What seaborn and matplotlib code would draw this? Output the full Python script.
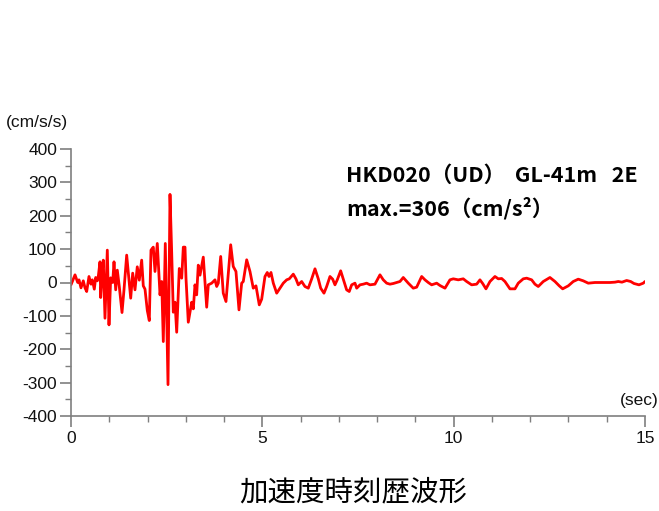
import matplotlib
matplotlib.use("Agg")
import matplotlib.pyplot as plt
import pandas as pd
import seaborn as sns
from matplotlib.ticker import MultipleLocator

# ---- data ----
time_s = [0.000, 0.105, 0.175, 0.209, 0.261, 0.321, 0.366, 0.410, 0.470, 0.523,
          0.557, 0.609, 0.645, 0.687, 0.713, 0.758, 0.776, 0.810, 0.844, 0.888,
          0.949, 0.993, 1.037, 1.090, 1.124, 1.168, 1.210, 1.262, 1.333, 1.385,
          1.455, 1.560, 1.612, 1.672, 1.732, 1.785, 1.847, 1.889, 1.934, 1.994,
          2.046, 2.090, 2.150, 2.195, 2.255, 2.326, 2.370, 2.412, 2.464, 2.535,
          2.587, 2.631, 2.673, 2.718, 2.762, 2.830, 2.893, 2.935, 2.979, 3.005,
          3.065, 3.154, 3.196, 3.240, 3.284, 3.326, 3.371, 3.457, 3.546, 3.588,
          3.677, 3.763, 3.807, 3.849, 3.912, 3.979, 4.050, 4.173, 4.240, 4.311,
          4.390, 4.460, 4.502, 4.591, 4.677, 4.763, 4.834, 4.920, 4.983, 5.069,
          5.129, 5.174, 5.226, 5.287, 5.375, 5.461, 5.547, 5.636, 5.704, 5.809,
          5.878, 5.939, 6.028, 6.114, 6.201, 6.290, 6.376, 6.462, 6.525, 6.611,
          6.681, 6.768, 6.838, 6.898, 6.958, 7.047, 7.134, 7.203, 7.271, 7.335,
          7.421, 7.466, 7.552, 7.638, 7.725, 7.813, 7.943, 8.074, 8.160, 8.249,
          8.335, 8.422, 8.511, 8.597, 8.683, 8.814, 8.944, 9.033, 9.164, 9.250,
          9.336, 9.425, 9.556, 9.642, 9.773, 9.903, 9.990, 10.120, 10.251, 10.339,
          10.470, 10.601, 10.687, 10.758, 10.844, 10.949, 11.079, 11.166, 11.254, 11.340,
          11.471, 11.602, 11.688, 11.819, 11.907, 12.038, 12.124, 12.210, 12.342, 12.516,
          12.647, 12.759, 12.848, 12.995, 13.125, 13.256, 13.387, 13.517, 13.692, 13.875,
          14.084, 14.215, 14.301, 14.398, 14.520, 14.625, 14.712, 14.843, 14.955, 15.000]
accel = [-7, 23, 0, 8, -16, 5, -16, -27, 18, -5,
         8, -20, 15, 5, 18, 62, -45, 20, 67, -107,
         97, -127, 14, 0, 62, -22, 37, -12, -90, -22,
         82, -47, 28, -22, 47, 7, 67, -10, -20, -84,
         -114, 97, 106, 33, 117, -37, 3, -177, 117, -306,
         264, 91, -89, -59, -149, 42, 13, 106, 106, 13,
         -119, -59, -79, -7, -37, 52, 22, 76, -74, -7,
         -2, 8, -12, -2, 78, -32, -57, 113, 48, 33,
         -82, -2, 3, 68, 33, -17, -10, -67, -50, 18,
         30, 18, 30, -2, -32, -17, -2, 8, 11, 25,
         11, -7, 3, -12, -17, 11, 41, 11, -17, -32,
         -12, 18, 10, -7, 8, 35, 3, -22, -27, -7,
         -2, -17, -7, -5, -2, -7, -5, 23, 8, -2,
         -5, -3, 0, 3, 15, -2, -17, -14, 18, 8,
         0, -7, -2, -9, -17, 8, 11, 8, 11, 3,
         -7, -5, 8, -3, -19, 3, 18, 11, 12, 3,
         -19, -19, -2, 11, 13, 8, -5, -12, 3, 15,
         3, -10, -19, -10, 3, 10, 5, -2, 0, 0,
         0, 1, 3, 1, 6, 3, -3, -7, -2, 3]

x_ticks = [0, 5, 10, 15]
y_ticks = [-400, -300, -200, -100, 0, 100, 200, 300, 400]
y_unit = "(cm/s/s)"
x_unit = "(sec)"
note_line1 = "HKD020（UD）  GL-41m   2E"
note_line2 = "max.=306（cm/s²）"
title = "加速度時刻歴波形"

sns.set_style("ticks")
plt.rcParams['font.family'] = ['Liberation Sans', 'DejaVu Sans']

W, H = 659, 511
fig = plt.figure(figsize=(W / 100, H / 100), dpi=100)
ax = fig.add_axes([71 / W, 1 - 416 / H, (645 - 71) / W, (416 - 149) / H])

df = pd.DataFrame({"t": time_s, "a": accel})
sns.lineplot(data=df, x="t", y="a", ax=ax, color="#ff0000", linewidth=2.0,
             estimator=None, sort=False)

ax.set_xlim(0, 15)
ax.set_ylim(-400, 400)
ax.set_xticks(x_ticks)
ax.set_xticklabels([str(v) for v in x_ticks])
ax.set_yticks(y_ticks)
ax.set_yticklabels([str(v) for v in y_ticks])
ax.xaxis.set_minor_locator(MultipleLocator(1))
ax.yaxis.set_minor_locator(MultipleLocator(50))
ax.set_xlabel("")
ax.set_ylabel("")

axis_col = "#7f7f7f"
for s in ["top", "right"]:
    ax.spines[s].set_visible(False)
for s in ["left", "bottom"]:
    ax.spines[s].set_color(axis_col)
    ax.spines[s].set_linewidth(1.2)
ax.tick_params(which="major", length=8, width=1.2, color=axis_col,
               labelsize=12.5, labelcolor="#111111", pad=2)
ax.tick_params(which="minor", length=4, width=1.0, color=axis_col)
ax.tick_params(axis="x", which="major", pad=3)

fig.text(6 / W, 1 - 122 / H, y_unit, ha="left", va="center", fontsize=12.5, color="#111111")
fig.text(659 / W, 1 - 400 / H, x_unit, ha="right", va="center", fontsize=12.5, color="#111111")

cjk = ["Noto Sans CJK JP", "DejaVu Sans"]
fig.text(346 / W, 1 - 175 / H, note_line1, ha="left", va="center", fontsize=15.5,
         family=cjk, weight="bold", color="black")
fig.text(346 / W, 1 - 208 / H, note_line2, ha="left", va="center", fontsize=15.5,
         family=cjk, weight="bold", color="black")
fig.text(353 / W, 1 - 492 / H, title, ha="center", va="center", fontsize=20.5,
         family=cjk, color="black")

fig.savefig("out.png", dpi=100)
